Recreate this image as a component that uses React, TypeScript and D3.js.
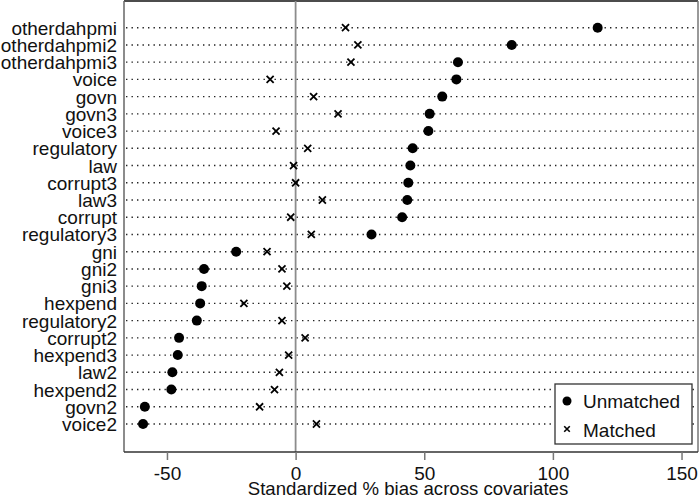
import * as d3 from 'd3';
import { useEffect, useRef } from 'react';

const variables = [
  'otherdahpmi', 'otherdahpmi2', 'otherdahpmi3', 'voice', 'govn', 'govn3', 'voice3',
  'regulatory', 'law', 'corrupt3', 'law3', 'corrupt', 'regulatory3', 'gni', 'gni2',
  'gni3', 'hexpend', 'regulatory2', 'corrupt2', 'hexpend3', 'law2', 'hexpend2',
  'govn2', 'voice2',
];
const unmatched = [
  117.4, 84.0, 63.1, 62.5, 57.0, 52.1, 51.6, 45.5, 44.6, 43.8, 43.4, 41.4, 29.5,
  -23.1, -35.6, -36.5, -37.1, -38.4, -45.3, -45.8, -47.9, -48.3, -58.6, -59.3,
];
const matched = [
  19.4, 24.2, 21.5, -9.9, 7.0, 16.5, -7.6, 4.7, -0.8, 0.0, 10.4, -1.9, 6.1,
  -11.1, -5.3, -3.4, -20.1, -5.3, 3.7, -2.7, -6.3, -8.2, -14.0, 8.1,
];
const xTicks = [-50, 0, 50, 100, 150];
const legendItems = ['Unmatched', 'Matched'];
const xTitle = 'Standardized % bias across covariates';

const W = 700;
const H = 499;
const margin = { top: 1, right: 2, bottom: 47, left: 124 };
const font = 'Arial, "Liberation Sans", sans-serif';

const App = () => {
  const ref = useRef(null);

  useEffect(() => {
    const svg = d3.select(ref.current);
    svg.selectAll('*').remove();

    const x = d3.scaleLinear().domain([-66.7, 156.4]).range([margin.left, W - margin.right]);
    const y = d3
      .scalePoint()
      .domain(variables)
      .range([27.7, 424]);

    const bottom = H - margin.bottom;

    // frame
    svg.append('line').attr('x1', margin.left).attr('x2', W - margin.right)
      .attr('y1', margin.top).attr('y2', margin.top)
      .attr('stroke', '#111').attr('stroke-width', 1.5);
    svg.append('line').attr('x1', W - margin.right).attr('x2', W - margin.right)
      .attr('y1', margin.top).attr('y2', bottom)
      .attr('stroke', '#777').attr('stroke-width', 1.5);

    // dotted row lines
    svg.append('g')
      .selectAll('line')
      .data(variables)
      .enter()
      .append('line')
      .attr('x1', margin.left + 2)
      .attr('x2', W - margin.right - 1)
      .attr('y1', (d) => y(d))
      .attr('y2', (d) => y(d))
      .attr('stroke', '#222')
      .attr('stroke-width', 1.4)
      .attr('stroke-dasharray', '1.4,4.1');

    // zero line
    svg.append('line').attr('x1', x(0)).attr('x2', x(0))
      .attr('y1', margin.top).attr('y2', bottom)
      .attr('stroke', '#8c8c8c').attr('stroke-width', 1.8);

    // y axis
    const yAxis = svg.append('g')
      .attr('transform', `translate(${margin.left},0)`)
      .call(d3.axisLeft(y).tickSize(0).tickPadding(7));
    yAxis.select('.domain').attr('stroke', '#666').attr('stroke-width', 1.5)
      .attr('d', `M0,${margin.top}V${bottom}`);
    yAxis.selectAll('text')
      .attr('font-family', font).attr('font-size', 19).attr('fill', '#111')
      .attr('dy', '0.34em');

    // x axis
    const xAxis = svg.append('g')
      .attr('transform', `translate(0,${bottom})`)
      .call(
        d3.axisBottom(x).tickValues(xTicks).tickFormat((d) => String(d))
          .tickSize(8).tickPadding(7).tickSizeOuter(0)
      );
    xAxis.select('.domain').attr('stroke', '#333').attr('stroke-width', 1.5)
      .attr('d', `M${margin.left},0H${W - margin.right}`);
    xAxis.selectAll('.tick line').attr('stroke', '#777').attr('stroke-width', 1.5);
    xAxis.selectAll('text')
      .attr('font-family', font).attr('font-size', 19).attr('fill', '#111');

    svg.append('text')
      .attr('x', (margin.left + W - margin.right) / 2 - 3)
      .attr('y', 495)
      .attr('text-anchor', 'middle')
      .attr('font-family', font)
      .attr('font-size', 18.6)
      .attr('fill', '#111')
      .text(xTitle);

    // matched (x markers)
    const cross = d3.symbol().type(d3.symbolX).size(34);
    svg.append('g')
      .selectAll('path')
      .data(variables)
      .enter()
      .append('path')
      .attr('d', cross)
      .attr('transform', (d, i) => `translate(${x(matched[i])},${y(d)})`)
      .attr('fill', 'none')
      .attr('stroke', '#000')
      .attr('stroke-width', 1.8);

    // unmatched (dots)
    svg.append('g')
      .selectAll('circle')
      .data(variables)
      .enter()
      .append('circle')
      .attr('cx', (d, i) => x(unmatched[i]))
      .attr('cy', (d) => y(d))
      .attr('r', 5)
      .attr('fill', '#000');

    // legend
    const lg = svg.append('g');
    lg.append('rect')
      .attr('x', 555).attr('y', 384).attr('width', 137).attr('height', 60)
      .attr('fill', '#fff').attr('stroke', '#333').attr('stroke-width', 1.3);
    lg.append('circle').attr('cx', 567).attr('cy', 401).attr('r', 4.5).attr('fill', '#000');
    lg.append('path').attr('d', d3.symbol().type(d3.symbolX).size(22))
      .attr('transform', 'translate(567,429)')
      .attr('stroke', '#000').attr('stroke-width', 1.6).attr('fill', 'none');
    legendItems.forEach((t, i) => {
      lg.append('text')
        .attr('x', 583).attr('y', 408 + i * 28.5)
        .attr('font-family', font).attr('font-size', 19).attr('fill', '#111')
        .text(t);
    });
  }, []);

  return (
    <svg
      ref={ref}
      width={W}
      height={H}
      style={{ position: 'absolute', left: 0, top: 0, background: '#fff' }}
    ></svg>
  );
};

export default App;
